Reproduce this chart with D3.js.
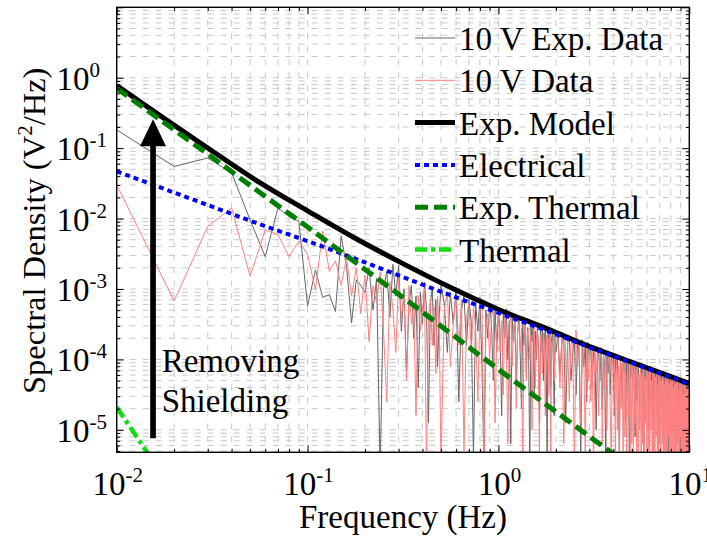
<!DOCTYPE html>
<html><head><meta charset="utf-8">
<script src="https://cdn.jsdelivr.net/npm/d3@7"></script>
</head><body style="margin:0">
<svg id="c" width="707" height="538"></svg>
<script>
// ---------------- DATA ----------------
const xTicks=[0.01,0.1,1,10];
const xTickExp=["-2","-1","0","1"];
const yTicks=[1,0.1,0.01,1e-3,1e-4,1e-5];
const yTickExp=["0","-1","-2","-3","-4","-5"];

const legendLabels=["10 V Exp. Data","10 V Data","Exp. Model","Electrical","Exp. Thermal","Thermal"];

// model curves: log10(frequency) and log10(spectral density)
const modelLogF=[-2,-1.75,-1.5,-1.25,-1,-0.75,-0.5,-0.25,0,0.25,0.5,0.75,1];
const expModelLog=[-0.11,-0.58,-1.04,-1.49,-1.89,-2.28,-2.64,-2.98,-3.29,-3.56,-3.84,-4.09,-4.34];
const electricalLog=[-1.33,-1.58,-1.83,-2.08,-2.32,-2.57,-2.83,-3.09,-3.34,-3.59,-3.85,-4.10,-4.35];
const expThermalLog=[-0.15,-0.64,-1.13,-1.63,-2.12,-2.62,-3.12,-3.63,-4.14,-4.64,-5.14,-5.64,-6.14];
const thermalLogF=[-2,-1.9,-1.8,-1.7];
const thermalLog=[-4.68,-5.08,-5.48,-5.88];

// measured spectra (log10), f = 0.01..0.50 (step .01), 0.52..2.00 (step .02), 2.05..10 (step .05)
const expDataA=[-0.74,-1.26,-1.14,-1.35,-2.02,-2.54,-1.85,-1.97,-2.04,-3.24,
 -2.73,-3.12,-3.08,-3.32,-2.25,-2.68,-3.48,-2.87,-2.95,-3.05,
 -2.7,-3.3,-2.85,-5.6,-3.0,-2.75,-3.4,-2.65,-3.1,-2.66,
 -3.6,-3.0,-4.2,-3.2,-2.95,-3.7,-3.1,-4.4,-3.05,-3.5,
 -2.9,-3.3,-4.9,-3.2,-3.0,-3.8,-3.15,-4.1,-3.35,-2.95];
const expDataB=[-3.2,-3.9,-3.05,-3.5,-2.98,-4.6,-3.3,-3.1,-3.8,-3.15,
 -3.45,-5.4,-3.2,-3.6,-3.12,-4.1,-5.5,-3.3,-3.7,-3.2,
 -3.5,-4.3,-3.25,-3.9,-3.3,-3.6,-4.8,-3.35,-3.7,-3.28,
 -4.0,-3.45,-5.2,-3.4,-3.75,-3.35,-4.4,-3.6,-3.42,-3.9,
 -4.7,-3.5,-3.8,-3.45,-4.2,-3.55,-3.9,-5.6,-3.5,-3.75,
 -3.48,-4.5,-3.6,-4.0,-3.5,-3.85,-4.9,-3.55,-3.9,-3.52,
 -4.3,-3.7,-3.58,-4.1,-5.3,-3.6,-3.95,-3.58,-4.4,-3.7,
 -3.62,-4.05,-4.8,-3.65,-3.9];
const expDataC=[-3.65,-4.2,-3.75,-3.68,-4.9,-3.8,-3.66,-4.3,-3.9,-3.72,
 -4.5,-3.74,-3.95,-5.4,-3.72,-4.1,-3.8,-4.6,-3.76,-4.0,
 -3.8,-4.4,-3.9,-3.82,-5.0,-4.0,-3.85,-4.3,-3.83,-4.7,
 -3.9,-4.1,-5.5,-3.88,-4.2,-3.95,-4.5,-3.9,-4.05,-3.93,
 -4.8,-3.95,-4.2,-3.94,-4.4,-5.3,-3.98,-4.1,-4.6,-3.96,
 -4.15,-4.0,-4.9,-3.98,-4.3,-4.05,-5.6,-4.0,-4.25,-4.02,
 -4.4,-4.05,-4.2,-5.1,-4.04,-4.6,-4.1,-4.08,-4.35,-4.9,
 -4.1,-4.25,-4.07,-4.7,-4.15,-5.4,-4.1,-4.3,-4.12,-4.55,
 -4.2,-4.11,-5.0,-4.35,-4.13,-4.6,-4.18,-4.14,-5.3,-4.25,
 -4.15,-4.5,-4.2,-4.16,-4.8,-4.3,-4.17,-5.5,-4.2,-4.4,
 -4.18,-4.7,-4.25,-4.19,-4.45,-5.2,-4.2,-4.35,-4.21,-4.9,
 -4.3,-4.22,-4.6,-4.25,-5.6,-4.23,-4.4,-4.24,-4.75,-4.3,
 -4.24,-5.0,-4.35,-4.25,-4.55,-4.27,-5.4,-4.3,-4.26,-4.65,
 -4.4,-4.27,-5.1,-4.3,-4.28,-4.7,-4.35,-4.29,-5.5,-4.4,
 -4.3,-4.6,-4.32,-4.29,-4.9,-4.4,-4.31,-5.3,-4.35,-4.5,
 -4.32,-4.8,-4.33,-4.45,-5.2,-4.34,-4.4,-4.6,-4.35,-4.5];

const dataA=[-1.52,-3.17,-2.11,-1.85,-2.82,-2.16,-2.23,-2.54,-2.32,-2.51,
 -3.01,-2.18,-2.75,-2.6,-2.95,-2.55,-3.1,-2.7,-3.35,-2.8,
 -3.75,-2.95,-3.2,-2.75,-3.6,-4.6,-2.9,-3.3,-3.9,-2.85,
 -3.4,-3.1,-4.3,-2.95,-3.5,-3.2,-4.8,-3.1,-3.6,-3.3,
 -3.0,-5.6,-3.4,-3.15,-3.8,-3.25,-4.2,-3.1,-3.6,-5.5];
const dataB=[-3.3,-3.05,-4.1,-3.5,-3.1,-3.8,-3.15,-5.3,-3.4,-3.2,
 -3.9,-3.25,-3.55,-4.6,-3.3,-3.2,-5.5,-3.5,-3.35,-4.0,
 -3.4,-3.3,-4.9,-3.6,-3.35,-3.9,-3.45,-4.5,-3.3,-3.7,
 -5.2,-3.5,-3.4,-4.1,-3.55,-3.45,-4.7,-3.6,-3.5,-3.9,
 -3.55,-5.6,-3.7,-3.5,-4.3,-3.6,-3.55,-4.0,-3.65,-5.0,
 -3.6,-3.55,-4.4,-3.7,-3.6,-3.95,-5.4,-3.65,-3.75,-4.2,
 -3.62,-3.8,-4.8,-3.65,-3.9,-3.7,-4.5,-3.6,-5.3,-3.75,
 -3.85,-3.66,-4.3,-3.9,-3.68];
const dataC=[-3.7,-4.4,-3.65,-5.2,-3.75,-3.68,-4.6,-3.8,-3.7,-5.5,
 -3.58,-4.1,-3.78,-4.9,-3.75,-3.9,-5.3,-3.8,-4.3,-3.82,
 -4.6,-3.85,-5.6,-3.9,-4.2,-3.84,-4.8,-3.95,-3.88,-5.2,
 -3.92,-4.4,-3.9,-5.0,-4.0,-3.93,-4.7,-5.5,-3.95,-4.2,
 -4.0,-5.3,-3.98,-5.0,-4.1,-5.6,-4.02,-4.7,-4.05,-5.4,
 -4.03,-5.1,-4.2,-5.5,-4.04,-4.8,-4.1,-5.6,-4.05,-5.2,
 -4.1,-5.5,-4.08,-4.9,-4.15,-5.4,-4.1,-5.7,-4.2,-5.0,
 -4.12,-5.6,-4.2,-5.2,-4.13,-5.5,-4.25,-4.9,-4.15,-5.6,
 -4.16,-5.3,-4.2,-5.7,-4.18,-5.0,-4.3,-5.5,-4.2,-5.4,
 -4.22,-5.6,-4.25,-5.1,-4.2,-5.5,-4.35,-5.7,-4.23,-5.2,
 -4.26,-5.5,-4.3,-5.0,-4.25,-5.6,-4.28,-5.3,-4.4,-5.7,
 -4.28,-5.4,-4.3,-5.6,-4.27,-5.1,-4.35,-5.5,-4.3,-5.7,
 -4.32,-5.3,-4.29,-5.6,-4.4,-5.0,-4.31,-5.5,-4.35,-5.8,
 -4.33,-5.4,-4.3,-5.2,-4.45,-5.6,-4.34,-5.5,-4.38,-5.1,
 -4.35,-5.7,-4.4,-5.3,-4.36,-5.5,-4.5,-5.6,-4.37,-5.2,
 -4.38,-5.6,-4.4,-5.4,-4.45,-5.7,-4.39,-5.3,-4.5,-5.6];

// annotation (data coordinates)
const arrowFreq=0.0155, arrowFromLog=-5.12, arrowToLog=-0.59;
const noteFreq=0.0172, noteLog=-4.18;
const noteLines=["Removing","Shielding"];

// ---------------- DRAW ----------------
const svg=d3.select("#c");
const L=116.7,R=689.3,T=7.3,B=452.3;
const x=d3.scaleLog().domain([0.01,10]).range([L,R]);
const y=d3.scaleLog().domain([4.8e-6,10]).range([B,T]);
const FS=33, SFS=21;
function txt(g){return g.append("text").style("font-family",'"Liberation Serif"').attr("fill","#000");}

svg.append("clipPath").attr("id","clip").append("rect")
  .attr("x",L).attr("y",T).attr("width",R-L).attr("height",B-T);

const grid=svg.append("g").attr("clip-path","url(#clip)")
  .attr("stroke","#c8c8c8").attr("stroke-width",1).attr("stroke-dasharray","6,7").attr("fill","none");
x.ticks().forEach(t=>grid.append("line").attr("x1",x(t)).attr("x2",x(t)).attr("y1",T).attr("y2",B));
y.ticks().forEach(t=>grid.append("line").attr("y1",y(t)).attr("y2",y(t)).attr("x1",L).attr("x2",R));

const freqs=[...d3.range(1,51).map(i=>+(i*0.01).toFixed(2)),
  ...d3.range(26,101).map(i=>+(i*0.02).toFixed(2)),
  ...d3.range(41,201).map(i=>+(i*0.05).toFixed(2))];
const expData=[...expDataA,...expDataB,...expDataC];
const data10=[...dataA,...dataB,...dataC];

const plot=svg.append("g").attr("clip-path","url(#clip)");
const line=d3.line().x(d=>x(d[0])).y(d=>y(d[1]));
const smooth=d3.line().x(d=>x(d[0])).y(d=>y(d[1])).curve(d3.curveMonotoneX);

const styles=[
  {stroke:"#666666",w:1,dash:null},
  {stroke:"#ff8080",w:1,dash:null},
  {stroke:"#000000",w:5,dash:null},
  {stroke:"#0000ff",w:4,dash:"5,4"},
  {stroke:"#008000",w:5,dash:"13,6"},
  {stroke:"#11dd11",w:4.5,dash:"12,4,4,4"}
];
function draw(g,gen,pts,s){
  g.append("path").attr("d",gen(pts)).attr("fill","none").attr("stroke",s.stroke)
   .attr("stroke-width",s.w).attr("stroke-dasharray",s.dash).attr("stroke-linejoin","round");
}
draw(plot,line,freqs.map((f,i)=>[f,10**expData[i]]),styles[0]);
draw(plot,line,freqs.map((f,i)=>[f,10**data10[i]]),styles[1]);
draw(plot,smooth,modelLogF.map((lf,i)=>[10**lf,10**expModelLog[i]]),styles[2]);
draw(plot,smooth,modelLogF.map((lf,i)=>[10**lf,10**electricalLog[i]]),styles[3]);
draw(plot,smooth,modelLogF.map((lf,i)=>[10**lf,10**expThermalLog[i]]),styles[4]);
draw(plot,smooth,thermalLogF.map((lf,i)=>[10**lf,10**thermalLog[i]]),styles[5]);

const ax=x(arrowFreq), ay0=y(10**arrowFromLog), ay1=y(10**arrowToLog);
const headL=27, headW=26;
svg.append("line").attr("x1",ax).attr("x2",ax).attr("y1",ay0).attr("y2",ay1+headL-1)
  .attr("stroke","#000").attr("stroke-width",5.7);
svg.append("path").attr("d",`M${ax},${ay1}L${ax-headW/2},${ay1+headL}L${ax+headW/2},${ay1+headL}Z`).attr("fill","#000");
noteLines.forEach((t,i)=>txt(svg).attr("x",x(noteFreq)).attr("y",y(10**noteLog)+i*40)
  .attr("font-size",FS).text(t));

const isMajor=t=>Math.abs(Math.log10(t)-Math.round(Math.log10(t)))<1e-9;
const majorX=x.ticks().filter(isMajor), minorX=x.ticks().filter(t=>!isMajor(t));
const majorY=y.ticks().filter(isMajor), minorY=y.ticks().filter(t=>!isMajor(t));
function tickAxis(gen,tr,vals,size){
  svg.append("g").attr("transform",tr)
    .call(gen.tickValues(vals).tickSize(size).tickFormat(""))
    .call(g=>{g.select(".domain").remove();g.selectAll("text").remove();
      g.selectAll("line").attr("stroke","#000").attr("stroke-width",1);});
}
tickAxis(d3.axisBottom(x),`translate(0,${B})`,majorX,-7);
tickAxis(d3.axisBottom(x),`translate(0,${B})`,minorX,-3.5);
tickAxis(d3.axisTop(x),`translate(0,${T})`,majorX,-7);
tickAxis(d3.axisTop(x),`translate(0,${T})`,minorX,-3.5);
tickAxis(d3.axisLeft(y),`translate(${L},0)`,majorY,-7);
tickAxis(d3.axisLeft(y),`translate(${L},0)`,minorY,-3.5);
tickAxis(d3.axisRight(y),`translate(${R},0)`,majorY,-7);
tickAxis(d3.axisRight(y),`translate(${R},0)`,minorY,-3.5);

svg.append("rect").attr("x",L).attr("y",T).attr("width",R-L).attr("height",B-T)
  .attr("fill","none").attr("stroke","#000").attr("stroke-width",1.4);

xTicks.forEach((t,i)=>{
  const tx=txt(svg).attr("x",x(t)+1).attr("y",495).attr("text-anchor","middle").attr("font-size",FS);
  tx.append("tspan").text("10");
  tx.append("tspan").attr("dy",-13).attr("font-size",SFS).text(xTickExp[i]);
});
yTicks.forEach((t,i)=>{
  const tx=txt(svg).attr("x",56.5).attr("y",y(t)+12).attr("font-size",FS);
  tx.append("tspan").text("10");
  tx.append("tspan").attr("dy",-13).attr("font-size",SFS).text(yTickExp[i]);
});

txt(svg).attr("x",(L+R)/2).attr("y",528).attr("text-anchor","middle").attr("font-size",FS).text("Frequency (Hz)");
const yl=txt(svg).attr("transform",`translate(45,${(T+B)/2+1}) rotate(-90)`).attr("text-anchor","middle").attr("font-size",32.5);
yl.append("tspan").text("Spectral Density (V");
yl.append("tspan").attr("dy",-13).attr("font-size",SFS).text("2");
yl.append("tspan").attr("dy",13).text("/Hz)");

legendLabels.forEach((lab,i)=>{
  const by=50+i*42.3, ly=by-12;
  const s=styles[i];
  svg.append("line").attr("x1",415).attr("x2",455).attr("y1",ly).attr("y2",ly)
    .attr("stroke",s.stroke).attr("stroke-width",s.w).attr("stroke-dasharray",s.dash);
  txt(svg).attr("x",459).attr("y",by).attr("font-size",FS).text(lab);
});
</script>
</body></html>
